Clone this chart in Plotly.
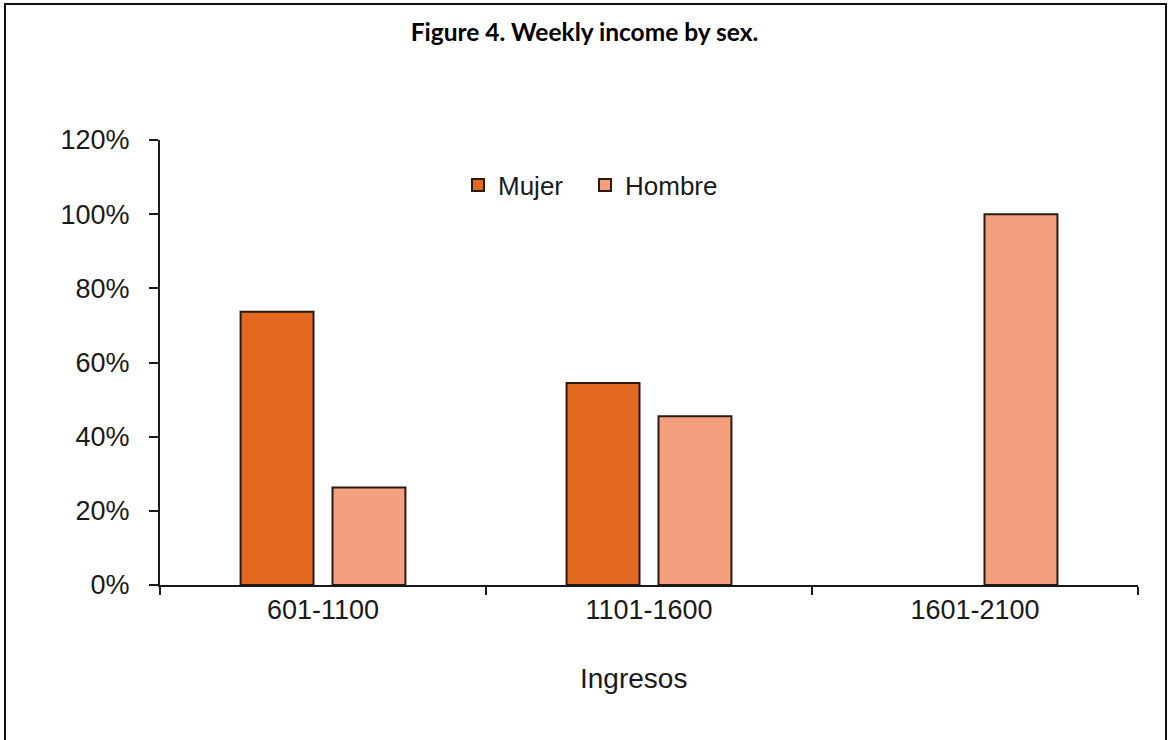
import plotly.graph_objects as go

# Weekly income brackets and share of each sex
ingresos = ["601-1100", "1101-1600", "1601-2100"]
mujer = [0.737, 0.545, 0.0]
hombre = [0.263, 0.455, 1.0]
y_ticks = [0, 0.2, 0.4, 0.6, 0.8, 1.0, 1.2]

W, H = 1169, 740
ML, MR, MT, MB = 160, 31, 140, 155
PW = W - ML - MR
PH = H - MT - MB

OUTLINE = "#2a1a12"


def px_x(px):
    return (px - ML) / PW


def px_y(py):
    return (H - MB - py) / PH


fig = go.Figure()
fig.add_trace(go.Bar(
    x=ingresos, y=mujer, name="Mujer", legendwidth=82,
    marker=dict(color="#E2691F",
                line=dict(color=OUTLINE, width=[2 if v > 0 else 0 for v in mujer])),
))
fig.add_trace(go.Bar(
    x=ingresos, y=hombre, name="Hombre",
    marker=dict(color="#F4A07F",
                line=dict(color=OUTLINE, width=[2 if v > 0 else 0 for v in hombre])),
))

axis_font = dict(family="Liberation Sans, Arial, sans-serif", size=27, color="#1a1a1a")

fig.update_layout(
    width=W, height=H,
    margin=dict(l=ML, r=MR, t=MT, b=MB),
    paper_bgcolor="white", plot_bgcolor="white",
    barmode="group", bargap=0.436, bargroupgap=0.207,
    showlegend=True,
    legend=dict(
        orientation="h", x=px_x(458), y=px_y(185), xanchor="left", yanchor="middle",
        font=dict(family="Liberation Sans, Arial, sans-serif", size=26, color="#1a1a1a"),
        bgcolor="rgba(0,0,0,0)", itemwidth=30, traceorder="normal",
    ),
    title=dict(
        text="<b>Figure 4. Weekly income by sex.</b>",
        x=0.5, xref="container", xanchor="center",
        y=1 - 32 / H, yref="container", yanchor="middle",
        font=dict(family="Lato, Liberation Sans, sans-serif", size=24.5, color="#000"),
    ),
    font=axis_font,
)

fig.update_xaxes(
    type="category", showline=True, linecolor="#1a1a1a", linewidth=2,
    ticks="outside", tickson="boundaries", ticklen=8, tickwidth=2, tickcolor="#1a1a1a",
    tickfont=axis_font, showgrid=False, zeroline=False,
)
fig.update_yaxes(
    range=[0, 1.2], tickvals=y_ticks, tickformat=".0%",
    showline=True, linecolor="#1a1a1a", linewidth=2,
    ticks="outside", ticklen=9, tickwidth=2, tickcolor="#1a1a1a",
    tickfont=axis_font, showgrid=False, zeroline=False,
    ticklabelstandoff=14,
)

# x-axis title
fig.add_annotation(
    text="Ingresos", xref="paper", yref="paper",
    x=px_x(633), y=px_y(678), xanchor="center", yanchor="middle",
    showarrow=False,
    font=dict(family="Liberation Sans, Arial, sans-serif", size=28, color="#1a1a1a"),
)

# outer frame around the whole figure
fig.add_shape(
    type="rect", xref="paper", yref="paper",
    x0=px_x(5), x1=px_x(1166), y0=px_y(742), y1=px_y(4),
    line=dict(color="#111", width=2), fillcolor="rgba(0,0,0,0)", layer="below",
)

fig.write_html("out.html")
